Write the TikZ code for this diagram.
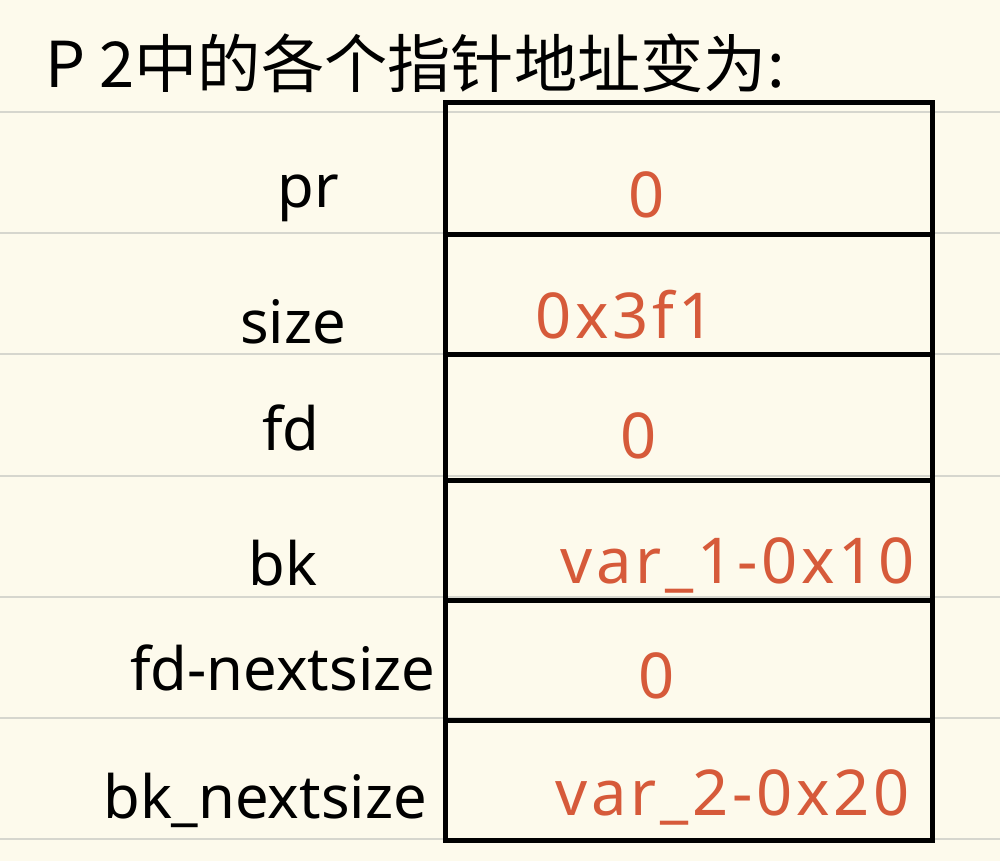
\documentclass[tikz,border=0pt]{standalone}
\usepackage{fontspec}
\setmainfont{Noto Sans}
\newfontfamily\cjk{Noto Sans CJK SC}
\newfontfamily\valfont[LetterSpace=6]{Noto Sans}
\definecolor{paper}{HTML}{FDFAEC}
\definecolor{rule}{HTML}{D6D6CE}
\definecolor{ink}{HTML}{D65A3A}
\begin{document}
\begin{tikzpicture}[x=0.02cm,y=-0.02cm,
  lbl/.style={anchor=base west,inner sep=0pt,font=\fontsize{34}{34}\selectfont},
  val/.style={anchor=base west,inner sep=0pt,text=ink,font=\valfont\fontsize{36}{36}\selectfont},
  cell/.style={draw,line width=2.8pt,minimum width=9.74cm,inner sep=0pt,anchor=north west},
  ruled/.style={rule,line width=1.2pt}]
\fill[paper] (0,0) rectangle (1000,861);
\useasboundingbox (0,0) rectangle (1000,861);
\foreach \y in {112,233,354,476,597,718,839} \draw[ruled] (0,\y) -- (1000,\y);
\node[anchor=base west,inner sep=0pt,font=\cjk\fontsize{36}{36}\selectfont] (title) at (45,88) {P 2中的各个指针地址变为:};
\node[cell,minimum height=2.64cm] (c1) at (443,100) {};
\node[cell,minimum height=2.40cm] (c2) at (443,232) {};
\node[cell,minimum height=2.52cm] (c3) at (443,352) {};
\node[cell,minimum height=2.40cm] (c4) at (443,478) {};
\node[cell,minimum height=2.40cm] (c5) at (443,598) {};
\node[cell,minimum height=2.40cm] (c6) at (443,718) {};
\node[lbl] (l1) at (277,208) {pr};
\node[lbl] (l2) at (240,343) {size};
\node[lbl] (l3) at (262,450) {fd};
\node[lbl] (l4) at (248,585) {bk};
\node[lbl] (l5) at (130,690) {fd-nextsize};
\node[lbl] (l6) at (103,818) {bk\_nextsize};
\node[val] (v1) at (628,218) {0};
\node[val] (v2) at (535,338) {0x3f1};
\node[val] (v3) at (620,458) {0};
\node[val] (v4) at (560,583) {var\_1-0x10};
\node[val] (v5) at (638,698) {0};
\node[val] (v6) at (555,815) {var\_2-0x20};
\end{tikzpicture}
\end{document}
